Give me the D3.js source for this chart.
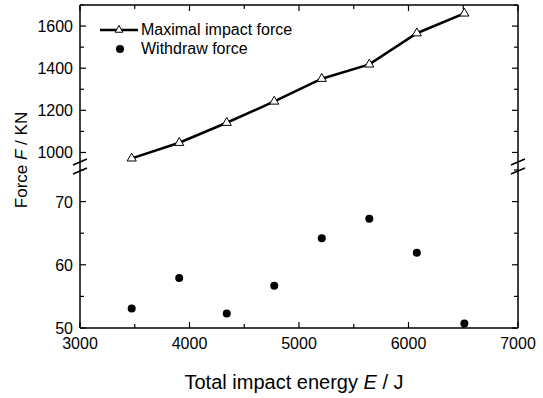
<!DOCTYPE html>
<html>
<head>
<meta charset="utf-8">
<script src="https://cdn.jsdelivr.net/npm/d3@7"></script>
<style>
  body { margin: 0; background: #fff; }
  svg text { font-family: "Liberation Sans", Arial, sans-serif; fill: #000; }
</style>
</head>
<body>
<div id="chart"></div>
<script>
var energy = [3472, 3906, 4340, 4774, 5208, 5642, 6076, 6510];
var maxForce = [972, 1046, 1141, 1242, 1350, 1418, 1566, 1660];
var withdrawForce = [53.1, 57.9, 52.3, 56.7, 64.2, 67.3, 61.9, 50.7];
var xTicks = [3000, 4000, 5000, 6000, 7000];
var upperTicks = [1000, 1200, 1400, 1600];
var lowerTicks = [50, 60, 70];

var width = 543, height = 398;
var plotLeft = 80, plotRight = 518, plotTop = 5, plotBottom = 328;
var breakTop = 163, breakBot = 170;

var svg = d3.select("#chart").append("svg")
    .attr("width", width)
    .attr("height", height);

var x = d3.scaleLinear().domain([3000, 7000]).range([plotLeft, plotRight]);
var yUp = d3.scaleLinear().domain([950, 1700]).range([breakTop, plotTop]);
var yLo = d3.scaleLinear().domain([50, 75]).range([plotBottom, breakBot]);

// frame
var frame = svg.append("g").attr("stroke", "#000").attr("stroke-width", 1.5).attr("fill", "none");
frame.append("line").attr("x1", plotLeft).attr("x2", plotRight).attr("y1", plotTop).attr("y2", plotTop);
frame.append("line").attr("x1", plotLeft).attr("x2", plotRight).attr("y1", plotBottom).attr("y2", plotBottom);
frame.append("line").attr("x1", plotLeft).attr("x2", plotLeft).attr("y1", plotTop).attr("y2", plotBottom);
frame.append("line").attr("x1", plotRight).attr("x2", plotRight).attr("y1", plotTop).attr("y2", plotBottom);

// x ticks (inward, bottom and top)
var xMinor = d3.range(3500, 7000, 1000);
var xt = svg.append("g").attr("stroke", "#000").attr("stroke-width", 1.2);
xTicks.concat(xMinor).forEach(function(v){
  var len = xTicks.indexOf(v) >= 0 ? 6 : 4;
  xt.append("line").attr("x1", x(v)).attr("x2", x(v)).attr("y1", plotBottom).attr("y2", plotBottom - len);
  xt.append("line").attr("x1", x(v)).attr("x2", x(v)).attr("y1", plotTop).attr("y2", plotTop + len);
});
svg.append("g").selectAll("text").data(xTicks).enter().append("text")
    .attr("x", function(d){ return x(d); })
    .attr("y", plotBottom + 21)
    .attr("text-anchor", "middle")
    .attr("font-size", "16px")
    .text(function(d){ return d; });

// y ticks
var upMinor = [1100, 1300, 1500, 1700];
var yt = svg.append("g").attr("stroke", "#000").attr("stroke-width", 1.2);
upperTicks.concat(upMinor).forEach(function(v){
  var len = upperTicks.indexOf(v) >= 0 ? 6 : 4;
  yt.append("line").attr("x1", plotLeft).attr("x2", plotLeft + len).attr("y1", yUp(v)).attr("y2", yUp(v));
  yt.append("line").attr("x1", plotRight).attr("x2", plotRight - len).attr("y1", yUp(v)).attr("y2", yUp(v));
});
var loMinor = [55, 65, 75];
lowerTicks.concat(loMinor).forEach(function(v){
  var len = lowerTicks.indexOf(v) >= 0 ? 6 : 4;
  yt.append("line").attr("x1", plotLeft).attr("x2", plotLeft + len).attr("y1", yLo(v)).attr("y2", yLo(v));
  yt.append("line").attr("x1", plotRight).attr("x2", plotRight - len).attr("y1", yLo(v)).attr("y2", yLo(v));
});
svg.append("g").selectAll("text").data(upperTicks).enter().append("text")
    .attr("x", plotLeft - 7)
    .attr("y", function(d){ return yUp(d) + 6; })
    .attr("text-anchor", "end")
    .attr("font-size", "16px")
    .text(function(d){ return d; });
svg.append("g").selectAll("text").data(lowerTicks).enter().append("text")
    .attr("x", plotLeft - 7)
    .attr("y", function(d){ return yLo(d) + 6; })
    .attr("text-anchor", "end")
    .attr("font-size", "16px")
    .text(function(d){ return d; });

// break marks
[plotLeft, plotRight].forEach(function(bx){
  [breakTop - 1, breakBot + 1].forEach(function(by){
    svg.append("line")
      .attr("x1", bx - 7).attr("y1", by + 3)
      .attr("x2", bx + 7).attr("y2", by - 3)
      .attr("stroke", "#000").attr("stroke-width", 1.5);
  });
});

// upper series
var line = d3.line()
    .x(function(d, i){ return x(energy[i]); })
    .y(function(d){ return yUp(d); });
svg.append("path").datum(maxForce)
    .attr("d", line)
    .attr("fill", "none")
    .attr("stroke", "#000")
    .attr("stroke-width", 2.5);
var tri = d3.symbol().type(d3.symbolTriangle).size(36);
svg.append("g").selectAll("path").data(maxForce).enter().append("path")
    .attr("d", tri)
    .attr("transform", function(d, i){ return "translate(" + x(energy[i]) + "," + yUp(d) + ")"; })
    .attr("fill", "#fff")
    .attr("stroke", "#000")
    .attr("stroke-width", 1);

// lower series
svg.append("g").selectAll("circle").data(withdrawForce).enter().append("circle")
    .attr("cx", function(d, i){ return x(energy[i]); })
    .attr("cy", function(d){ return yLo(d); })
    .attr("r", 4)
    .attr("fill", "#000");

// legend
var lg = svg.append("g");
lg.append("line").attr("x1", 100).attr("x2", 138).attr("y1", 30).attr("y2", 30)
    .attr("stroke", "#000").attr("stroke-width", 2.5);
lg.append("path").attr("d", d3.symbol().type(d3.symbolTriangle).size(26)).attr("transform", "translate(119,30)")
    .attr("fill", "#fff").attr("stroke", "#000").attr("stroke-width", 1);
lg.append("text").attr("x", 141).attr("y", 35).attr("font-size", "16px").text("Maximal impact force");
lg.append("circle").attr("cx", 120).attr("cy", 49).attr("r", 4).attr("fill", "#000");
lg.append("text").attr("x", 141).attr("y", 54).attr("font-size", "16px").text("Withdraw force");

// axis titles
var xt2 = svg.append("text").attr("x", 294).attr("y", 389).attr("text-anchor", "middle").attr("font-size", "20px");
xt2.append("tspan").text("Total impact energy ");
xt2.append("tspan").attr("font-style", "italic").text("E");
xt2.append("tspan").text(" / J");

var yt2 = svg.append("text").attr("transform", "translate(27,160) rotate(-90)").attr("text-anchor", "middle").attr("font-size", "17px").attr("fill", "#000");
yt2.append("tspan").attr("fill", "#000").text("Force ");
yt2.append("tspan").attr("fill", "#000").attr("font-style", "italic").text("F");
yt2.append("tspan").attr("fill", "#000").text(" / KN");
</script>
</body>
</html>
